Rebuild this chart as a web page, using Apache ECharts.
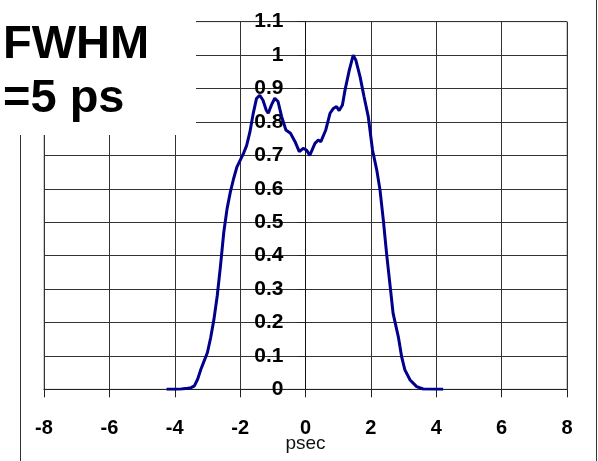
<!DOCTYPE html>
<html>
<head>
<meta charset="utf-8">
<script src="https://cdn.jsdelivr.net/npm/echarts@6/dist/echarts.min.js"></script>
<style>
html,body{margin:0;padding:0;background:#fff;}
#c{width:598px;height:461px;}
</style>
</head>
<body>
<div id="c"></div>
<script>
var timePs = [-4.25, -4.0, -3.8, -3.6, -3.5, -3.4, -3.3, -3.2, -3.1, -3.0, -2.9, -2.8, -2.7, -2.6, -2.5, -2.4, -2.3, -2.2, -2.1, -2.0, -1.9, -1.8, -1.7, -1.6, -1.5, -1.4, -1.3, -1.2, -1.14, -1.04, -0.94, -0.84, -0.73, -0.6, -0.46, -0.32, -0.19, -0.07, 0.03, 0.13, 0.29, 0.39, 0.47, 0.62, 0.75, 0.85, 0.95, 1.03, 1.13, 1.21, 1.34, 1.46, 1.54, 1.67, 1.79, 1.92, 2.05, 2.18, 2.28, 2.38, 2.48, 2.58, 2.68, 2.84, 2.94, 3.04, 3.2, 3.4, 3.6, 4.21];
var intensity = [0, 0, 0.001, 0.003, 0.005, 0.01, 0.03, 0.06, 0.085, 0.11, 0.155, 0.21, 0.28, 0.37, 0.47, 0.54, 0.59, 0.63, 0.665, 0.685, 0.705, 0.73, 0.77, 0.825, 0.87, 0.88, 0.865, 0.835, 0.826, 0.851, 0.871, 0.861, 0.816, 0.776, 0.766, 0.741, 0.711, 0.721, 0.716, 0.70, 0.736, 0.746, 0.741, 0.776, 0.826, 0.84, 0.846, 0.834, 0.851, 0.896, 0.955, 1.0, 0.985, 0.935, 0.876, 0.816, 0.716, 0.656, 0.596, 0.507, 0.407, 0.317, 0.227, 0.157, 0.098, 0.058, 0.028, 0.008, 0.001, 0.0];
var xTicks = [-8, -6, -4, -2, 0, 2, 4, 6, 8];
var yTicks = [0, 0.1, 0.2, 0.3, 0.4, 0.5, 0.6, 0.7, 0.8, 0.9, 1, 1.1];
var annotationLines = ['FWHM', '=5 ps'];
var xAxisTitle = 'psec';

var pts = timePs.map(function (t, i) { return [t, intensity[i]]; });
var F = '"Liberation Sans", Arial, sans-serif';
var gridLeft = 44, gridRight = 31, W = 598;
var plotW = W - gridLeft - gridRight;
var xMin = xTicks[0], xMax = xTicks[xTicks.length - 1];
// place y-axis on x = 0 by shifting it from the left edge
var yOffset = -plotW * (0 - xMin) / (xMax - xMin);
var chart = echarts.init(document.getElementById('c'), null, {renderer: 'canvas'});
chart.setOption({
  backgroundColor: '#fff',
  animation: false,
  grid: {left: gridLeft, right: gridRight, top: 21.7, bottom: 71.7, outerBoundsMode: 'none', containLabel: false,
    show: true, borderColor: '#999', borderWidth: 1, backgroundColor: 'transparent'},
  xAxis: {
    type: 'value', min: xMin, max: xMax, interval: 2,
    name: xAxisTitle, nameLocation: 'middle', nameGap: 45, nameMoveOverlap: false,
    nameTextStyle: {fontFamily: F, fontSize: 19, color: '#111'},
    axisLine: {show: true, onZero: false, lineStyle: {color: '#222', width: 1}},
    axisTick: {show: true, length: 8, lineStyle: {color: '#222'}},
    axisLabel: {margin: 29, fontFamily: F, fontSize: 20, fontWeight: 'bold', color: '#000'},
    splitLine: {show: true, lineStyle: {color: '#333', width: 1}}
  },
  yAxis: {
    type: 'value', min: yTicks[0], max: yTicks[yTicks.length - 1], interval: 0.1,
    position: 'left', offset: yOffset,
    axisLine: {show: true, onZero: false, lineStyle: {color: '#111', width: 1}},
    axisTick: {show: true, length: 8, lineStyle: {color: '#222'}},
    axisLabel: {margin: 22, fontFamily: F, fontSize: 21, fontWeight: 'bold', color: '#000',
      formatter: function (v) { return String(Math.round(v * 10) / 10); }},
    splitLine: {show: true, lineStyle: {color: '#333', width: 1}}
  },
  series: [{
    type: 'line', data: pts, showSymbol: false, symbol: 'none', smooth: false,
    lineStyle: {color: '#00008c', width: 3}, z: 5
  }],
  graphic: [
    {type: 'rect', z: 0, silent: true, shape: {x: 20.5, y: -10, width: 576, height: 490},
      style: {fill: 'none', stroke: '#333', lineWidth: 1}},
    {type: 'rect', z: 100, silent: true, shape: {x: 0, y: 0, width: 196, height: 135},
      style: {fill: '#fff'}},
    {type: 'text', z: 101, left: 3, top: 22, silent: true,
      style: {text: annotationLines[0], font: 'bold 47px ' + F, fill: '#000'}},
    {type: 'text', z: 101, left: 3, top: 76, silent: true,
      style: {text: annotationLines[1], font: 'bold 47px ' + F, fill: '#000'}}
  ]
});
</script>
</body>
</html>
